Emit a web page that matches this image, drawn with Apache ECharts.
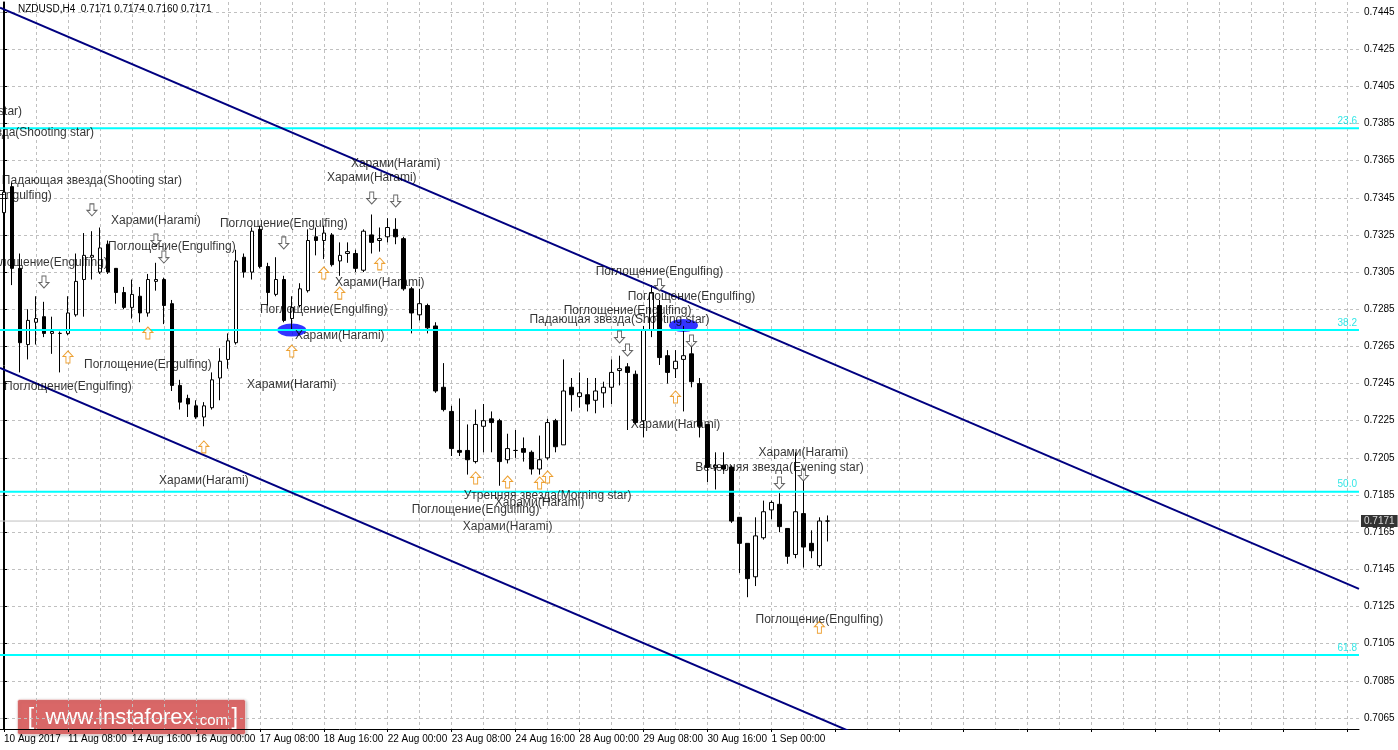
<!DOCTYPE html>
<html><head><meta charset="utf-8">
<script src="https://cdn.jsdelivr.net/npm/echarts@6/dist/echarts.min.js"></script>
<style>html,body{margin:0;padding:0;background:#fff}#c{width:1398px;height:750px}</style>
</head><body><div id="c"></div>
<script>
// ---- data ----
const tradingDays = ['10 Aug','11 Aug','14 Aug','15 Aug','16 Aug','17 Aug','18 Aug','21 Aug','22 Aug','23 Aug','24 Aug','25 Aug','28 Aug','29 Aug','30 Aug','31 Aug','1 Sep','4 Sep'];
const barHours = ['00:00','04:00','08:00','12:00','16:00','20:00'];
const firstLabel = '10 Aug 2017';
const symbolTitle = 'NZDUSD,H4  0.7171 0.7174 0.7160 0.7171';

const openP  = [0.7337,0.7351,0.7307,0.7266,0.7278,0.7281,0.7272,0.7272,0.7272,0.7282,0.7301,0.7313,0.7305,0.7320,0.7307,0.7294,0.7286,0.7292,0.7283,0.7300,0.7301,0.7288,0.7244,0.7237,0.7233,0.7227,0.7232,0.7248,0.7258,0.7267,0.7313,0.7305,0.7328,0.7308,0.7293,0.7301,0.7280,0.7287,0.7295,0.7324,0.7322,0.7325,0.7311,0.7315,0.7315,0.7306,0.7325,0.7322,0.7324,0.7328,0.7323,0.7296,0.7282,0.7287,0.7276,0.7243,0.7230,0.7209,0.7209,0.7203,0.7222,0.7226,0.7225,0.7204,0.7209,0.7210,0.7208,0.7199,0.7205,0.7225,0.7212,0.7243,0.7238,0.7239,0.7236,0.7240,0.7243,0.7252,0.7254,0.7250,0.7225,0.7274,0.7287,0.7260,0.7253,0.7258,0.7261,0.7245,0.7223,0.7200,0.7201,0.7200,0.7173,0.7159,0.7141,0.7162,0.7177,0.7180,0.7167,0.7153,0.7175,0.7159,0.7147,0.7171];
const highP  = [0.7375,0.7353,0.7315,0.7285,0.7292,0.7289,0.7281,0.7273,0.7292,0.7315,0.7326,0.7327,0.7329,0.7322,0.7307,0.7297,0.7301,0.7297,0.7304,0.7310,0.7302,0.7290,0.7247,0.7239,0.7236,0.7235,0.7251,0.7264,0.7272,0.7317,0.7315,0.7329,0.7330,0.7310,0.7313,0.7303,0.7292,0.7299,0.7328,0.7329,0.7330,0.7326,0.7321,0.7321,0.7317,0.7328,0.7336,0.7329,0.7334,0.7334,0.7324,0.7297,0.7296,0.7288,0.7278,0.7256,0.7233,0.7237,0.7223,0.7231,0.7234,0.7230,0.7226,0.7218,0.7220,0.7216,0.7209,0.7217,0.7226,0.7226,0.7258,0.7248,0.7251,0.7248,0.7248,0.7246,0.7258,0.7260,0.7256,0.7252,0.7276,0.7298,0.7290,0.7263,0.7263,0.7276,0.7267,0.7248,0.7223,0.7208,0.7208,0.7201,0.7173,0.7159,0.7173,0.7182,0.7182,0.7186,0.7167,0.7208,0.7197,0.7166,0.7173,0.7174];
const lowP   = [0.7332,0.7298,0.7251,0.7258,0.7266,0.7270,0.7261,0.7251,0.7271,0.7281,0.7281,0.7301,0.7304,0.7304,0.7288,0.7285,0.7280,0.7278,0.7281,0.7295,0.7277,0.7241,0.7231,0.7227,0.7226,0.7222,0.7231,0.7236,0.7253,0.7266,0.7302,0.7301,0.7307,0.7287,0.7292,0.7278,0.7274,0.7286,0.7294,0.7314,0.7312,0.7308,0.7303,0.7310,0.7305,0.7305,0.7315,0.7316,0.7321,0.7320,0.7295,0.7272,0.7279,0.7272,0.7240,0.7230,0.7206,0.7206,0.7196,0.7202,0.7208,0.7208,0.7190,0.7202,0.7205,0.7203,0.7196,0.7196,0.7204,0.7208,0.7212,0.7230,0.7232,0.7230,0.7229,0.7232,0.7234,0.7244,0.7220,0.7223,0.7216,0.7270,0.7255,0.7245,0.7248,0.7230,0.7243,0.7216,0.7192,0.7188,0.7198,0.7170,0.7143,0.7130,0.7136,0.7161,0.7172,0.7165,0.7148,0.7151,0.7146,0.7151,0.7146,0.7160];
const closeP = [0.7348,0.7307,0.7267,0.7279,0.7280,0.7272,0.7273,0.7272,0.7283,0.7300,0.7314,0.7314,0.7318,0.7305,0.7294,0.7286,0.7293,0.7283,0.7301,0.7301,0.7287,0.7244,0.7235,0.7234,0.7227,0.7233,0.7247,0.7257,0.7268,0.7311,0.7305,0.7327,0.7308,0.7294,0.7301,0.7279,0.7286,0.7296,0.7322,0.7322,0.7326,0.7309,0.7314,0.7316,0.7307,0.7327,0.7321,0.7323,0.7329,0.7324,0.7296,0.7283,0.7288,0.7275,0.7241,0.7231,0.7210,0.7208,0.7204,0.7223,0.7225,0.7224,0.7203,0.7210,0.7209,0.7208,0.7199,0.7204,0.7224,0.7211,0.7241,0.7239,0.7240,0.7234,0.7241,0.7243,0.7251,0.7253,0.7251,0.7224,0.7274,0.7294,0.7259,0.7251,0.7257,0.7260,0.7246,0.7222,0.7200,0.7201,0.7199,0.7171,0.7159,0.7140,0.7163,0.7176,0.7181,0.7168,0.7152,0.7176,0.7157,0.7155,0.7171,0.7171];

const priceTicks = [0.7065,0.7085,0.7105,0.7125,0.7145,0.7165,0.7185,0.7205,0.7225,0.7245,0.7265,0.7285,0.7305,0.7325,0.7345,0.7365,0.7385,0.7405,0.7425,0.7445];
const lastPrice = 0.7171;
const fibLabels = ['23.6','38.2','50.0','61.8'];
const fibPrices = [0.73824,0.72738,0.71868,0.70989];
const channelUpper = [[-0.5,0.74473],[169.5,0.71345]];
const channelLower = [[-0.5,0.72534],[107,0.70556]];

// pattern annotations: bar index, price, text
const annBars   = [-9,0,11,-2,19,21,5,35,49,46,47,40,42,36,18,8,25,82,86,78,77,84,100,97,68,67,59,63,102];
const annPrices = [0.73912,0.73799,0.73540,0.73460,0.73325,0.73185,0.73099,0.73309,0.73632,0.73556,0.72991,0.72846,0.72706,0.72442,0.72550,0.72431,0.71926,0.73051,0.72916,0.72841,0.72792,0.72227,0.72076,0.71996,0.71845,0.71807,0.71769,0.71678,0.71177];
const annTexts  = ['Падающая звезда(Shooting star)','Падающая звезда(Shooting star)','Падающая звезда(Shooting star)','Поглощение(Engulfing)','Харами(Harami)','Поглощение(Engulfing)','Поглощение(Engulfing)','Поглощение(Engulfing)','Харами(Harami)','Харами(Harami)','Харами(Harami)','Поглощение(Engulfing)','Харами(Harami)','Харами(Harami)','Поглощение(Engulfing)','Поглощение(Engulfing)','Харами(Harami)','Поглощение(Engulfing)','Поглощение(Engulfing)','Поглощение(Engulfing)','Падающая звезда(Shooting star)','Харами(Harami)','Харами(Harami)','Вечерняя звезда(Evening star)','Утренняя звезда(Morning star)','Харами(Harami)','Поглощение(Engulfing)','Харами(Harami)','Поглощение(Engulfing)'];

const downArrowBars   = [5,11,19,20,35,46,49,77,78,82,86,97,100];
const downArrowPrices = [0.72997,0.73385,0.73223,0.73131,0.73207,0.73449,0.73433,0.72701,0.72631,0.72981,0.72679,0.71915,0.71958];
const upArrowBars     = [8,18,25,36,40,42,47,59,63,67,68,84,102];
const upArrowPrices   = [0.72593,0.72722,0.72109,0.72625,0.73045,0.72937,0.73094,0.71942,0.71920,0.71915,0.71947,0.72378,0.71138];

const markerBars   = [36,85];
const markerPrices = [0.72738,0.72763];

// ---- build ----
const nBars = openP.length;
const nSlots = 170;
const firstSlot = -0.5, lastSlot = nSlots - 0.5;
const categories = [];
for (let i = 0; i < nSlots; i++) {
  if (i < nBars) categories.push(tradingDays[Math.floor(i / 6)] + ' ' + barHours[i % 6]);
  else categories.push('f' + i);
}
const candles = openP.map((o, i) => [o, closeP[i], lowP[i], highP[i]]);
const yMin = 0.705906, yMax = 0.745038;
const FONT = 'Liberation Sans';

const fibSeries = fibPrices.map((p, i) => ({
  type: 'line', name: 'fib' + fibLabels[i], xAxisIndex: 1, yAxisIndex: 0, z: 3,
  symbol: 'none', silent: true, lineStyle: {color: '#00ffff', width: 2},
  data: [[firstSlot, p], [lastSlot, p]]
}));

const chart = echarts.init(document.getElementById('c'), null, {renderer: 'canvas'});
chart.setOption({
  animation: false,
  backgroundColor: '#ffffff',
  textStyle: {fontFamily: FONT},
  grid: {left: -1, right: 39, top: 2, bottom: 21, containLabel: false},
  xAxis: [{
    type: 'category', data: categories, position: 'bottom',
    axisLine: {show: true, lineStyle: {color: '#000', width: 1}},
    axisTick: {show: true, interval: 7, alignWithLabel: true, length: 3, lineStyle: {color: '#000'}},
    axisLabel: {interval: 7, align: 'left', margin: 5, fontSize: 10, color: '#000', fontFamily: FONT,
      formatter: (v, i) => i === 0 ? firstLabel : (i < nBars ? v : '')},
    splitLine: {show: true, interval: 3, alignWithLabel: true, lineStyle: {color: '#c0c0c0', type: [3, 3], width: 1}}
  }, {
    type: 'value', min: firstSlot, max: lastSlot, show: false, position: 'top'
  }],
  yAxis: [{
    type: 'value', position: 'right', min: yMin, max: yMax,
    axisLine: {show: true, lineStyle: {color: '#000', width: 1}},
    axisTick: {show: true, customValues: priceTicks, length: 3, lineStyle: {color: '#000'}},
    axisLabel: {customValues: priceTicks, formatter: v => v.toFixed(4), fontSize: 10, color: '#000', margin: 5, fontFamily: FONT},
    splitLine: {show: true, lineStyle: {color: '#c0c0c0', type: [3, 3], width: 1}}
  }, {
    type: 'value', position: 'left', offset: -3, min: yMin, max: yMax,
    axisLine: {show: true, lineStyle: {color: '#000', width: 1}},
    axisTick: {show: false}, axisLabel: {show: false}, splitLine: {show: false}
  }],
  series: [
    {
      type: 'line', name: 'lastPriceLine', xAxisIndex: 1, yAxisIndex: 0, z: 1,
      symbol: 'none', silent: true, lineStyle: {color: '#c0c0c0', width: 1},
      data: [[firstSlot, lastPrice], [lastSlot, lastPrice]]
    },
    {
      type: 'scatter', name: 'markers', xAxisIndex: 1, yAxisIndex: 0, z: 1,
      symbol: 'circle', symbolSize: [29, 13], silent: true,
      itemStyle: {color: '#0000ff'},
      data: markerBars.map((b, i) => [b, markerPrices[i]])
    },
    {
      type: 'candlestick', name: 'NZDUSD', xAxisIndex: 0, yAxisIndex: 0, z: 2,
      barWidth: 4,
      itemStyle: {color: '#ffffff', color0: '#000000', borderColor: '#000000', borderColor0: '#000000', borderWidth: 1},
      data: candles
    },
    ...fibSeries,
    {
      type: 'line', name: 'channelUpper', xAxisIndex: 1, yAxisIndex: 0, z: 3,
      symbol: 'none', silent: true, clip: true,
      lineStyle: {color: '#000080', width: 2},
      data: channelUpper
    },
    {
      type: 'line', name: 'channelLower', xAxisIndex: 1, yAxisIndex: 0, z: 3,
      symbol: 'none', silent: true, clip: true,
      lineStyle: {color: '#000080', width: 2},
      data: channelLower
    },
    {
      type: 'scatter', name: 'fibLabels', xAxisIndex: 1, yAxisIndex: 0, z: 4, silent: true, clip: false,
      symbolSize: 0,
      label: {show: true, position: 'left', distance: 2, offset: [0, -7], formatter: '{b}', color: '#00e0e0', fontSize: 10, fontFamily: FONT},
      data: fibPrices.map((p, i) => ({name: fibLabels[i], value: [lastSlot, p]}))
    },
    {
      type: 'scatter', name: 'lastPriceTag', xAxisIndex: 1, yAxisIndex: 0, z: 6, silent: true, clip: false,
      symbolSize: 0,
      label: {show: true, position: 'right', distance: 2, formatter: '{b}', backgroundColor: '#000', color: '#fff',
        fontSize: 10, padding: [1, 3, 1, 3], fontFamily: FONT},
      data: [{name: lastPrice.toFixed(4), value: [lastSlot, lastPrice]}]
    },
    {
      type: 'scatter', name: 'down', xAxisIndex: 1, yAxisIndex: 0, z: 4, silent: true,
      symbol: 'path://M3,0L7,0L7,6L10,6L5,11L0,6L3,6Z', symbolSize: [10, 12],
      itemStyle: {color: '#ffffff', borderColor: '#404040', borderWidth: 1},
      data: downArrowBars.map((b, i) => [b, downArrowPrices[i]])
    },
    {
      type: 'scatter', name: 'up', xAxisIndex: 1, yAxisIndex: 0, z: 4, silent: true,
      symbol: 'path://M5,0L10,5L7,5L7,11L3,11L3,5L0,5Z', symbolSize: [10, 12],
      itemStyle: {color: '#ffffff', borderColor: '#e88a00', borderWidth: 1},
      data: upArrowBars.map((b, i) => [b, upArrowPrices[i]])
    },
    {
      type: 'scatter', name: 'patterns', xAxisIndex: 1, yAxisIndex: 0, z: 5, silent: true, clip: false,
      symbolSize: 0,
      label: {show: true, position: 'inside', formatter: '{b}', color: '#000', fontSize: 12, fontFamily: FONT},
      data: annBars.map((b, i) => ({name: annTexts[i], value: [b, annPrices[i]]}))
    }
  ],
  graphic: [
    {type: 'text', left: 18, top: 4, z: 10, style: {text: symbolTitle, fontSize: 10, fill: '#000', fontFamily: FONT}},
    {
      type: 'group', left: 17, top: 699, z: 10,
      children: [
        {type: 'rect', shape: {x: 0, y: 0, width: 228, height: 35, r: 2},
          style: {fill: 'rgba(222,80,80,0.8)', stroke: 'rgba(255,255,255,0.5)', lineWidth: 1,
            shadowBlur: 3, shadowColor: 'rgba(0,0,0,0.3)', shadowOffsetX: 1, shadowOffsetY: 1}},
        {type: 'text', x: 10, y: 18, style: {text: '[', fontSize: 24, fill: '#fff', fontFamily: FONT, verticalAlign: 'middle'}},
        {type: 'text', x: 28, y: 18, style: {text: 'www.instaforex', fontSize: 22, fill: '#fff', fontFamily: FONT, verticalAlign: 'middle'}},
        {type: 'text', x: 178, y: 21, style: {text: '.com', fontSize: 15, fill: '#fff', fontFamily: FONT, verticalAlign: 'middle'}},
        {type: 'text', x: 214, y: 18, style: {text: ']', fontSize: 24, fill: '#fff', fontFamily: FONT, verticalAlign: 'middle'}}
      ]
    }
  ]
});
</script>
</body></html>
